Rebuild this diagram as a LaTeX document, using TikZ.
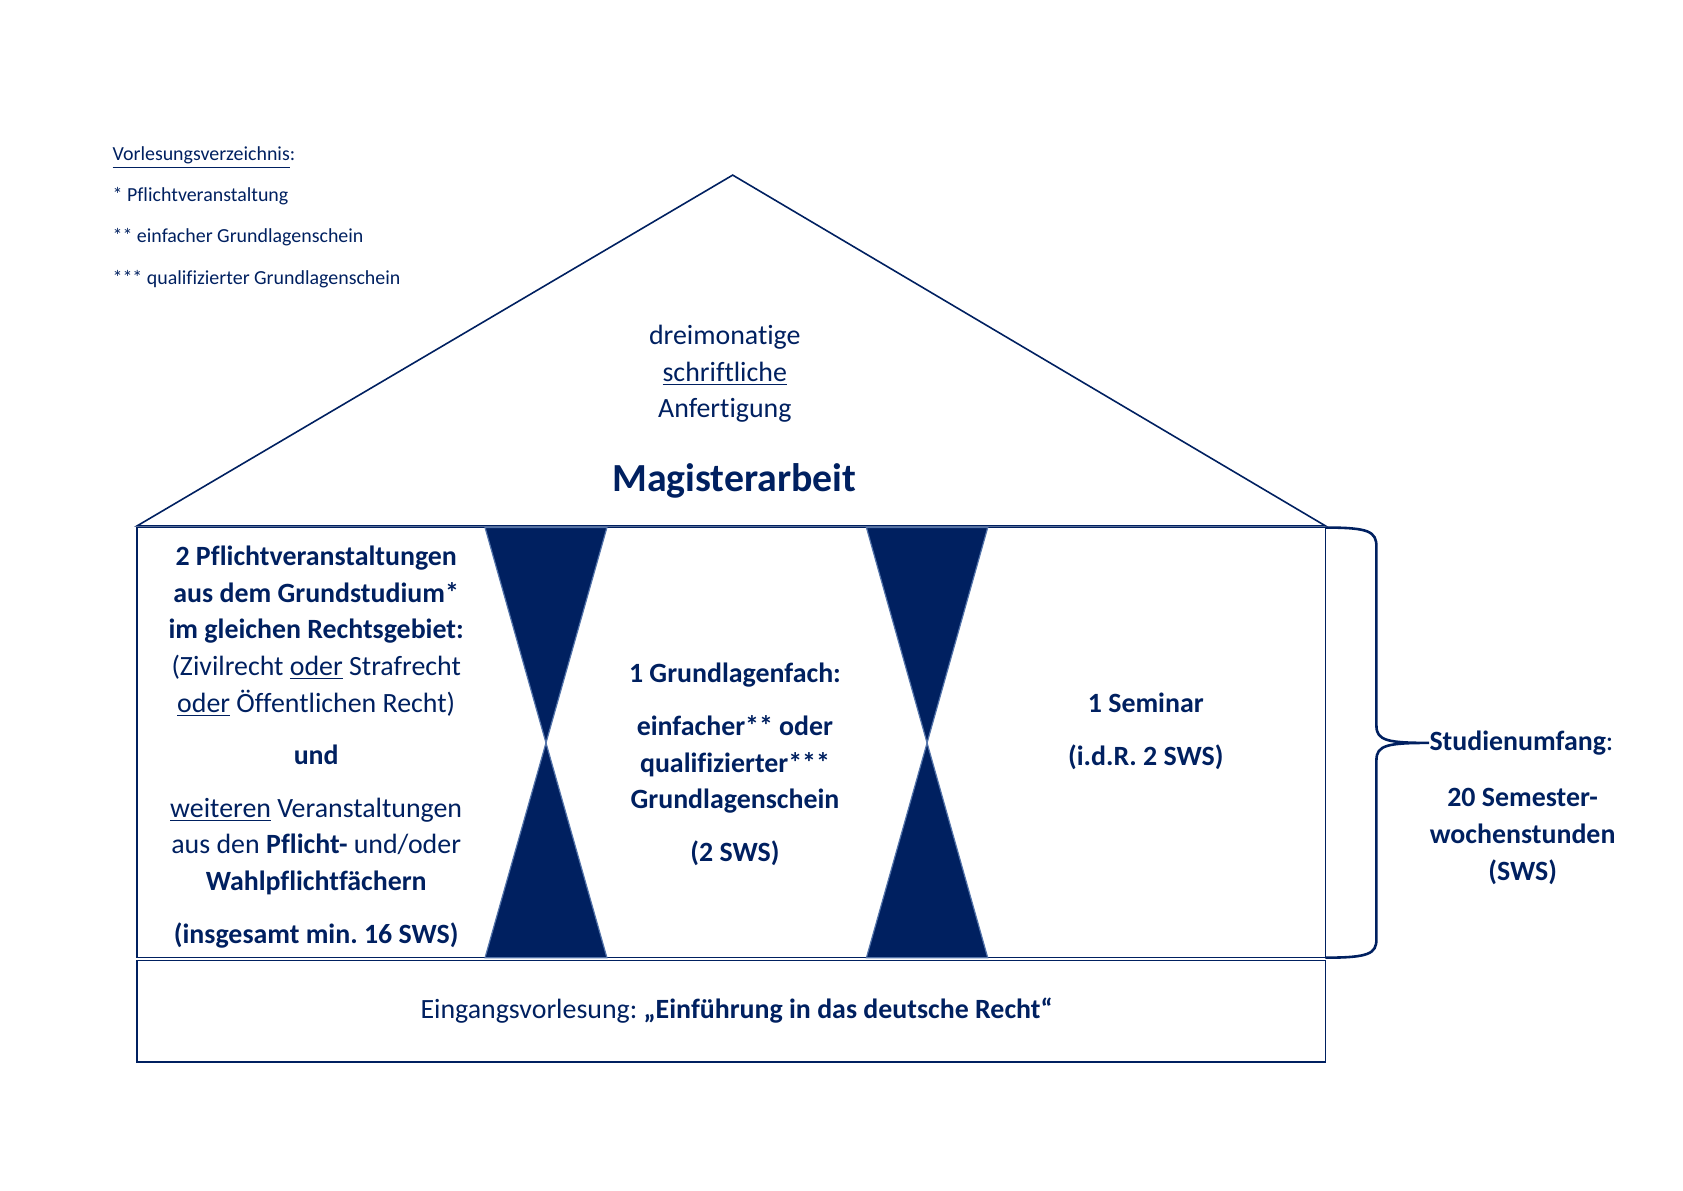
\documentclass[tikz,border=0pt]{standalone}
\usepackage{fontspec}
\setmainfont{Carlito}[Ligatures=NoCommon]
\usepackage{tikz}
\usetikzlibrary{positioning}
\frenchspacing
\definecolor{navy}{RGB}{0, 32, 96}
\definecolor{kante}{RGB}{84, 116, 170}
\tikzset{
	linie/.style={navy, line width=0.8pt},
	text14/.style={navy, align=center, font=\fontsize{14}{18.4}\selectfont},
	legende/.style={navy, anchor=west, inner sep=0pt, font=\fontsize{10}{12}\selectfont}
}
\newcommand{\sanduhr}[3]{% {links}{rechts}{name}
	\coordinate (#3) at ({(#1+#2)/2},7.89);
	\filldraw[fill=navy, draw=kante, line width=0.6pt] (#1,11.69) -- (#2,11.69) -- (#3) -- cycle;
	\filldraw[fill=navy, draw=kante, line width=0.6pt] (#1,4.10) -- (#2,4.10) -- (#3) -- cycle;
}

\begin{document}
\begin{tikzpicture}
	\useasboundingbox (0,0) rectangle (29.7,21);

	% Dach
	\draw[linie] (2.42,11.72) -- (12.93,17.91) -- (23.39,11.72) -- cycle;
	\node[text14] (dach) at (12.79,14.40) {dreimonatige\\ \underline{schriftliche}\\ Anfertigung};
	\node[navy, font=\fontsize{20}{24}\selectfont\bfseries] (magister) at (12.96,12.51) {Magisterarbeit};

	% Saeulen
	\draw[linie] (2.42,11.69) rectangle (23.39,4.10);
	\draw[linie] (2.42,4.05) rectangle (23.39,2.26);
	\sanduhr{8.56}{10.71}{kreuz1}
	\sanduhr{15.29}{17.43}{kreuz2}

	\node[text14] (links) at (5.58,7.82) {\textbf{2 Pflichtveranstaltungen}\\
		\textbf{aus dem Grundstudium*}\\
		\textbf{im gleichen Rechtsgebiet:}\\
		(Zivilrecht \underline{oder} Strafrecht\\
		\underline{oder} Öffentlichen Recht)\\[8pt]
		\textbf{und}\\[8pt]
		\underline{weiteren} Veranstaltungen\\
		aus den \textbf{Pflicht-} und/oder\\
		\textbf{Wahlpflichtfächern}\\[8pt]
		\textbf{(insgesamt min. 16 SWS)}};
	\node[text14, font=\fontsize{14}{18.4}\selectfont\bfseries] (mitte) at (12.97,7.51) {1 Grundlagenfach:\\[8pt]
		einfacher** oder\\
		qualifizierter***\\
		Grundlagenschein\\[8pt]
		(2 SWS)};
	\node[text14, font=\fontsize{14}{18.4}\selectfont\bfseries] (rechts) at (20.22,8.09) {1 Seminar\\[8pt] (i.d.R. 2 SWS)};

	\node[text14] (basis) at (13.00,3.17) {Eingangsvorlesung: \textbf{„Einführung in das deutsche Recht“}};

	% Klammer
	\coordinate (oben) at (23.39,11.69);
	\coordinate (unten) at (23.39,4.10);
	\coordinate (spitze) at (25.22,7.89);
	\draw[navy, line width=1.3pt] (oben) .. controls (24.16,11.69) and (24.29,11.62) .. (24.29,11.35)
		-- (24.29,8.19) .. controls (24.29,7.93) and (24.49,7.89) .. (spitze)
		.. controls (24.49,7.89) and (24.29,7.85) .. (24.29,7.59)
		-- (24.29,4.43) .. controls (24.29,4.17) and (24.16,4.10) .. (unten);
	\node[text14, anchor=west, inner sep=0pt] (umfang) at (spitze) {\textbf{Studienumfang}:};
	\node[text14, font=\fontsize{14}{18.4}\selectfont\bfseries] (sws) at (26.87,6.24) {20 Semester-\\ wochenstunden\\ (SWS)};

	% Legende
	\node[legende] (leg0) at (1.98,18.22) {\underline{Vorlesungsverzeichnis}:};
	\node[legende] (leg1) at (1.98,17.54) {* Pflichtveranstaltung};
	\node[legende] (leg2) at (1.98,16.81) {** einfacher Grundlagenschein};
	\node[legende] (leg3) at (1.98,16.08) {*** qualifizierter Grundlagenschein};
\end{tikzpicture}
\end{document}
